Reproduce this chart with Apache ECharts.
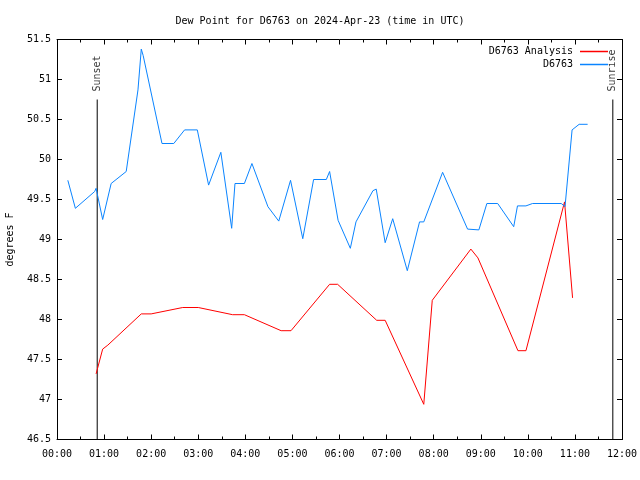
<!DOCTYPE html>
<html>
<head>
<meta charset="utf-8">
<script src="https://cdn.jsdelivr.net/npm/echarts@6/dist/echarts.min.js"></script>
<style>html,body{margin:0;padding:0;background:#fff}#c{width:640px;height:480px}</style>
</head>
<body>
<div id="c"></div>
<script>
// time in hours UTC
const obsTimes = [0.23,0.39,0.80,0.83,0.97,1.15,1.47,1.72,1.79,1.83,2.23,2.48,2.71,2.98,3.22,3.48,3.71,3.78,3.98,4.14,4.48,4.71,4.96,5.22,5.45,5.72,5.79,5.97,6.23,6.35,6.71,6.78,6.97,7.13,7.44,7.70,7.79,8.19,8.72,8.96,9.13,9.36,9.70,9.78,9.96,10.10,10.71,10.79,10.94,11.09,11.27];
const obsValues = [49.74,49.39,49.60,49.64,49.25,49.70,49.85,50.87,51.38,51.30,50.20,50.20,50.37,50.37,49.68,50.09,49.14,49.70,49.70,49.95,49.41,49.23,49.74,49.01,49.75,49.75,49.85,49.24,48.89,49.22,49.61,49.63,48.96,49.26,48.61,49.22,49.22,49.84,49.13,49.12,49.45,49.45,49.16,49.42,49.42,49.45,49.45,49.41,50.37,50.44,50.44];
const anaTimes = [0.83,0.97,1.08,1.79,2.00,2.67,3.00,3.73,3.98,4.76,4.97,5.79,5.96,6.79,6.97,7.79,7.97,8.79,8.94,9.79,9.96,10.78,10.95];
const anaValues = [47.32,47.63,47.68,48.07,48.07,48.15,48.15,48.06,48.06,47.86,47.86,48.44,48.44,47.99,47.99,46.94,48.24,48.88,48.77,47.61,47.61,49.47,48.27];
const sunEvents = ['Sunset','Sunrise'];
const sunTimes = [0.854, 11.805];
const sunLineBottom = 46.5;
const sunLineTop = 50.75;
const seriesNames = ['D6763 Analysis','D6763'];
const xTickHours = [0,1,2,3,4,5,6,7,8,9,10,11,12];

const FONT = 'DejaVu Sans Mono';
const pair = (ts, vs) => ts.map((t,i)=>[t, vs[i]]);
const fmtHour = v => (v<10?'0':'') + v + ':00';

const series = [
  {name: seriesNames[0], type:'line', data: pair(anaTimes, anaValues), symbol:'none',
   lineStyle:{color:'#ff0000', width:1}, itemStyle:{color:'#ff0000'}, animation:false, z:3},
  {name: seriesNames[1], type:'line', data: pair(obsTimes, obsValues), symbol:'none',
   lineStyle:{color:'#0a84ff', width:1}, itemStyle:{color:'#0a84ff'}, animation:false, z:4}
];
sunEvents.forEach((name, i) => {
  series.push({name: name+'Line', type:'line', data:[[sunTimes[i], sunLineBottom],[sunTimes[i], sunLineTop]],
    symbol:'none', lineStyle:{color:'#000', width:1}, animation:false, silent:true, z:2});
  series.push({name: name+'Label', type:'scatter', data:[[sunTimes[i], sunLineTop]], symbolSize:0,
    animation:false, silent:true,
    label:{show:true, formatter:name, position:'top', distance:7, rotate:90, align:'left', verticalAlign:'middle',
      offset:[1,0], fontFamily:FONT, fontSize:10, color:'#000'}});
});

const chart = echarts.init(document.getElementById('c'), null, {renderer:'canvas'});
chart.setOption({
  animation:false,
  backgroundColor:'#fff',
  title:{text:'Dew Point for D6763 on 2024-Apr-23 (time in UTC)', left:'center', top:11,
    textStyle:{fontFamily:FONT, fontSize:10, fontWeight:'normal', color:'#000'}},
  legend:{data:seriesNames, orient:'vertical', right:27, top:40, align:'right',
    icon:'rect', itemWidth:28, itemHeight:1.5, itemGap:0,
    textStyle:{fontFamily:FONT, fontSize:10, color:'#000', lineHeight:13, padding:[0,2,0,0]}},
  grid:{left:57, right:18, top:39.5, bottom:40.5, containLabel:false, outerBoundsMode:'none'},
  xAxis:[
    {type:'value', min:0, max:12, interval:1, position:'bottom',
     axisLine:{show:true, onZero:false, lineStyle:{color:'#000', width:1}},
     axisTick:{show:true, inside:true, length:5, lineStyle:{color:'#000'}},
     minorTick:{show:true, splitNumber:2, length:3, lineStyle:{color:'#000'}},
     axisLabel:{formatter:fmtHour, fontFamily:FONT, fontSize:10, color:'#000', margin:10,
       customValues: xTickHours},
     splitLine:{show:false}},
    {type:'value', min:0, max:12, interval:1, position:'top',
     axisLine:{show:true, onZero:false, lineStyle:{color:'#000', width:1}},
     axisTick:{show:true, inside:true, length:5, lineStyle:{color:'#000'}},
     minorTick:{show:true, splitNumber:2, length:3, lineStyle:{color:'#000'}},
     axisLabel:{show:false}, splitLine:{show:false}}
  ],
  yAxis:[
    {type:'value', min:46.5, max:51.5, interval:0.5, position:'left',
     name:'degrees F', nameLocation:'middle', nameGap:42, nameRotate:90,
     nameTextStyle:{fontFamily:FONT, fontSize:10, color:'#000'},
     axisLine:{show:true, onZero:false, lineStyle:{color:'#000', width:1}},
     axisTick:{show:true, inside:true, length:5, lineStyle:{color:'#000'}},
     axisLabel:{fontFamily:FONT, fontSize:10, color:'#000', margin:6},
     splitLine:{show:false}},
    {type:'value', min:46.5, max:51.5, interval:0.5, position:'right',
     axisLine:{show:true, onZero:false, lineStyle:{color:'#000', width:1}},
     axisTick:{show:true, inside:true, length:5, lineStyle:{color:'#000'}},
     axisLabel:{show:false}, splitLine:{show:false}}
  ],
  series: series
});
</script>
</body>
</html>
